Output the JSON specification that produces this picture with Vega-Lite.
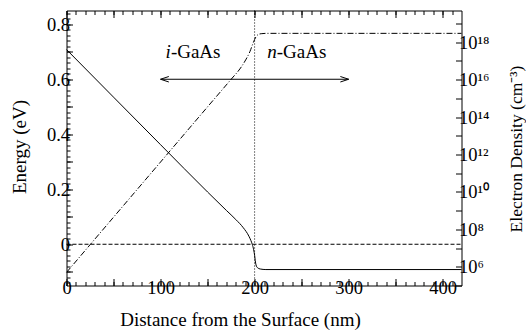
{
  "$schema": "https://vega.github.io/schema/vega-lite/v6.json",
  "width": 395,
  "height": 275,
  "autosize": {"type": "none"},
  "padding": {"left": 66.5, "top": 10.5, "right": 64.5, "bottom": 46.5},
  "background": "white",
  "config": {
    "font": "Liberation Serif",
    "view": {"stroke": "black", "strokeWidth": 1},
    "axis": {
      "domain": false, "grid": false,
      "labelFont": "Liberation Serif",
      "titleFont": "Liberation Serif",
      "labelFontSize": 18.5, "titleFontSize": 19,
      "labelColor": "black", "titleColor": "black", "tickColor": "black",
      "titleFontWeight": "normal", "tickWidth": 1,
      "labelFlush": false, "labelOverlap": false, "labelBound": false
    },
    "text": {"font": "Liberation Serif"}
  },
  "datasets": {
    "energy": [
      {"x": 0, "E": 0.708}, {"x": 50, "E": 0.535}, {"x": 100, "E": 0.362},
      {"x": 150, "E": 0.19}, {"x": 170, "E": 0.123}, {"x": 180, "E": 0.09},
      {"x": 188, "E": 0.06}, {"x": 194, "E": 0.029}, {"x": 196, "E": 0.014},
      {"x": 197.5, "E": 0.0}, {"x": 199, "E": -0.02}, {"x": 200, "E": -0.04},
      {"x": 200.7, "E": -0.06}, {"x": 201.5, "E": -0.075}, {"x": 203, "E": -0.085},
      {"x": 206, "E": -0.09}, {"x": 212, "E": -0.092}, {"x": 420, "E": -0.092}
    ],
    "density": [
      {"x": 0, "n": 5.0e5}, {"x": 50, "n": 4.47e8}, {"x": 100, "n": 3.98e11},
      {"x": 150, "n": 3.55e14}, {"x": 175, "n": 1.05e16}, {"x": 185, "n": 4.17e16},
      {"x": 191, "n": 1.26e17}, {"x": 195, "n": 3.16e17}, {"x": 198, "n": 7.94e17},
      {"x": 200, "n": 1.41e18}, {"x": 202, "n": 2.14e18}, {"x": 204, "n": 2.63e18},
      {"x": 207, "n": 2.88e18}, {"x": 212, "n": 3.0e18}, {"x": 420, "n": 3.0e18}
    ],
    "fermi": [{"x": 0, "E": 0}, {"x": 420, "E": 0}],
    "iface": [{"x": 200}],
    "arrow": [{"x": 100, "E": 0.6, "dir": "left"}, {"x": 300, "E": 0.6, "dir": "right"}],
    "labels": [
      {"x": 111, "E": 0.7, "t": "i"}, {"x": 111, "E": 0.7, "t": "-GaAs"},
      {"x": 223.5, "E": 0.7, "t": "n"}, {"x": 223.5, "E": 0.7, "t": "-GaAs"}
    ]
  },
  "layer": [
    {
      "data": {"name": "energy"},
      "mark": {"type": "line", "color": "black", "strokeWidth": 1, "interpolate": "monotone"},
      "encoding": {
        "x": {"field": "x", "type": "quantitative", "scale": {"domain": [0, 420], "nice": false, "zero": false},
          "axis": {"orient": "bottom", "values": [0, 50, 100, 150, 200, 250, 300, 350, 400],
            "labelExpr": "datum.value % 100 == 0 ? datum.label : ''", "tickSize": -7, "labelPadding": 0,
            "title": "Distance from the Surface (nm)", "titleX": 173.5, "titleY": 39.5,
            "titleBaseline": "alphabetic", "titleAlign": "center", "titleAnchor": "start"}},
        "y": {"field": "E", "type": "quantitative", "scale": {"domain": [-0.15, 0.85], "nice": false, "zero": false},
          "axis": {"orient": "left", "values": [-0.1, 0, 0.1, 0.2, 0.3, 0.4, 0.5, 0.6, 0.7, 0.8],
            "labelExpr": "indexof(['0','0.2','0.4','0.6','0.8'], format(datum.value, '.1~f')) >= 0 ? format(datum.value, '.1~f') : ''",
            "tickSize": -6, "labelPadding": 3,
            "title": "Energy (eV)", "titleAngle": -90, "titleX": -41.5, "titleY": 136,
            "titleBaseline": "alphabetic", "titleAlign": "center", "titleAnchor": "start"}}
      }
    },
    {
      "data": {"name": "fermi"},
      "mark": {"type": "line", "color": "black", "strokeWidth": 1, "strokeDash": [4, 2]},
      "encoding": {
        "x": {"field": "x", "type": "quantitative", "scale": {"domain": [0, 420], "nice": false, "zero": false},
          "axis": {"orient": "bottom", "values": [0,10,20,30,40,50,60,70,80,90,100,110,120,130,140,150,160,170,180,190,200,210,220,230,240,250,260,270,280,290,300,310,320,330,340,350,360,370,380,390,400,410],
            "labels": false, "tickSize": -4, "title": null}},
        "y": {"field": "E", "type": "quantitative", "scale": {"domain": [-0.15, 0.85], "nice": false, "zero": false},
          "axis": {"orient": "left", "values": [-0.14,-0.12,-0.1,-0.08,-0.06,-0.04,-0.02,0,0.02,0.04,0.06,0.08,0.1,0.12,0.14,0.16,0.18,0.2,0.22,0.24,0.26,0.28,0.3,0.32,0.34,0.36,0.38,0.4,0.42,0.44,0.46,0.48,0.5,0.52,0.54,0.56,0.58,0.6,0.62,0.64,0.66,0.68,0.7,0.72,0.74,0.76,0.78,0.8,0.82,0.84],
            "labels": false, "tickSize": -3.5, "title": null}}
      }
    },
    {
      "data": {"name": "arrow"},
      "mark": {"type": "line", "color": "black", "strokeWidth": 1},
      "encoding": {
        "x": {"field": "x", "type": "quantitative", "scale": {"domain": [0, 420], "nice": false, "zero": false},
          "axis": {"orient": "top", "values": [0, 50, 100, 150, 200, 250, 300, 350, 400],
            "labels": false, "tickSize": -7, "title": null}},
        "y": {"field": "E", "type": "quantitative", "scale": {"domain": [-0.15, 0.85], "nice": false, "zero": false}, "axis": null}
      }
    },
    {
      "data": {"name": "arrow"},
      "mark": {"type": "point", "filled": false, "stroke": "black", "strokeWidth": 1, "opacity": 1, "size": 275},
      "encoding": {
        "x": {"field": "x", "type": "quantitative", "scale": {"domain": [0, 420], "nice": false, "zero": false},
          "axis": {"orient": "top", "values": [0,10,20,30,40,50,60,70,80,90,100,110,120,130,140,150,160,170,180,190,200,210,220,230,240,250,260,270,280,290,300,310,320,330,340,350,360,370,380,390,400,410],
            "labels": false, "tickSize": -4, "title": null}},
        "y": {"field": "E", "type": "quantitative", "scale": {"domain": [-0.15, 0.85], "nice": false, "zero": false}, "axis": null},
        "shape": {"field": "dir", "type": "nominal", "legend": null,
          "scale": {"domain": ["left", "right"], "range": ["M1,-0.33L0,0L1,0.33", "M-1,-0.33L0,0L-1,0.33"]}}
      }
    },
    {
      "data": {"name": "iface"},
      "mark": {"type": "rule", "color": "black", "strokeWidth": 1, "strokeDash": [1, 2]},
      "encoding": {
        "x": {"field": "x", "type": "quantitative", "scale": {"domain": [0, 420], "nice": false, "zero": false}, "axis": null}
      }
    },
    {
      "data": {"name": "labels"},
      "transform": [{"filter": "datum.t == 'i' || datum.t == 'n'"}],
      "mark": {"type": "text", "fontSize": 19, "fontStyle": "italic", "align": "right", "baseline": "middle", "color": "black"},
      "encoding": {
        "x": {"field": "x", "type": "quantitative", "scale": {"domain": [0, 420], "nice": false, "zero": false}, "axis": null},
        "y": {"field": "E", "type": "quantitative", "scale": {"domain": [-0.15, 0.85], "nice": false, "zero": false}, "axis": null},
        "text": {"field": "t"}
      }
    },
    {
      "data": {"name": "labels"},
      "transform": [{"filter": "datum.t == '-GaAs'"}],
      "mark": {"type": "text", "fontSize": 19, "align": "left", "baseline": "middle", "color": "black"},
      "encoding": {
        "x": {"field": "x", "type": "quantitative", "scale": {"domain": [0, 420], "nice": false, "zero": false}, "axis": null},
        "y": {"field": "E", "type": "quantitative", "scale": {"domain": [-0.15, 0.85], "nice": false, "zero": false}, "axis": null},
        "text": {"field": "t"}
      }
    },
    {
      "data": {"name": "density"},
      "mark": {"type": "line", "color": "black", "strokeWidth": 1, "strokeDash": [6, 2, 1, 2], "interpolate": "monotone"},
      "encoding": {
        "x": {"field": "x", "type": "quantitative", "scale": {"domain": [0, 420], "nice": false, "zero": false}, "axis": null},
        "y": {"field": "n", "type": "quantitative", "scale": {"type": "log", "domain": [1e5, 5e19], "nice": false},
          "axis": {"orient": "right", "values": [1e5,1e6,1e7,1e8,1e9,1e10,1e11,1e12,1e13,1e14,1e15,1e16,1e17,1e18,1e19],
            "labelExpr": "datum.value == 1e6 ? '10⁶' : datum.value == 1e8 ? '10⁸' : datum.value == 1e10 ? '10¹⁰' : datum.value == 1e12 ? '10¹²' : datum.value == 1e14 ? '10¹⁴' : datum.value == 1e16 ? '10¹⁶' : datum.value == 1e18 ? '10¹⁸' : ''",
            "tickSize": -6, "labelPadding": 3,
            "title": "Electron Density (cm⁻³)", "titleFontSize": 17.5, "titleAngle": -90, "titleX": 59.5, "titleY": 138,
            "titleBaseline": "alphabetic", "titleAlign": "center", "titleAnchor": "start"}}
      }
    }
  ],
  "resolve": {"scale": {"y": "independent"}, "axis": {"x": "independent", "y": "independent"}}
}
